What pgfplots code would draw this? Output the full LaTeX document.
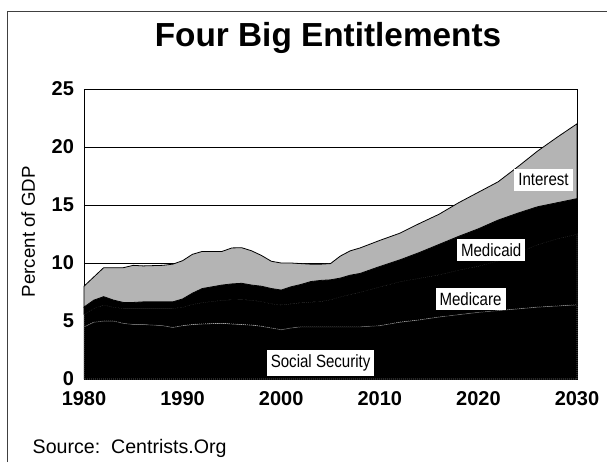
\documentclass[border=0pt]{standalone}
\usepackage{fontspec}
\setmainfont{Liberation Sans}
\newfontfamily\narrowfont[FakeStretch=0.85]{Liberation Sans}
\usepackage{pgfplots}
\pgfplotsset{compat=1.18}
\usepackage{pgfplotstable}

\definecolor{intgray}{RGB}{180,180,180}
\tikzset{lbl/.style={fill=white, draw=none, inner xsep=3pt, minimum height=16pt,
    font=\narrowfont\fontsize{13.3}{15}\selectfont}}

% percent of GDP, one column per program (stacked)
\pgfplotstableread{
year ss   medicare medicaid interest
1980 4.5  1.1  0.6  1.8
1981 4.9  1.2  0.7  2.0
1982 5.0  1.4  0.7  2.5
1983 5.0  1.2  0.6  2.8
1984 4.8  1.3  0.5  3.0
1985 4.7  1.4  0.5  3.2
1986 4.7  1.4  0.55 3.1
1988 4.6  1.5  0.55 3.15
1989 4.45 1.65 0.55 3.25
1990 4.6  1.6  0.7  3.3
1991 4.7  1.75 0.95 3.35
1992 4.75 1.85 1.2  3.2
1994 4.8  2.0  1.3  2.9
1995 4.75 2.1  1.35 3.1
1996 4.7  2.17 1.38 3.07
1997 4.65 2.15 1.3  2.95
1998 4.55 2.15 1.3  2.65
1999 4.4  2.1  1.3  2.35
2000 4.25 2.15 1.27 2.33
2001 4.4  2.1  1.45 2.05
2002 4.5  2.1  1.55 1.8
2003 4.5  2.15 1.75 1.5
2004 4.5  2.2  1.8  1.4
2005 4.5  2.35 1.7  1.4
2006 4.5  2.6  1.6  1.9
2007 4.5  2.8  1.65 2.1
2008 4.5  3.0  1.6  2.2
2010 4.6  3.35 1.75 2.25
2012 4.9  3.5  1.86 2.3
2014 5.1  3.6  2.2  2.5
2016 5.35 3.65 2.6  2.6
2018 5.55 3.85 2.9  2.9
2020 5.75 4.0  3.2  3.15
2022 5.9  4.3  3.5  3.3
2024 6.05 4.85 3.4  4.0
2026 6.2  5.4  3.25 4.8
2028 6.3  5.8  3.1  5.65
2030 6.4  6.1  3.05 6.45
}\entitlements

\begin{document}
\begin{tikzpicture}
\path[use as bounding box] (0,0) rectangle (455.25pt,-346.5pt);
\draw[black!75, line width=0.8pt] (5.6pt,-346.5pt) -- (5.6pt,-8.5pt) -- (455.25pt,-8.5pt);
\begin{axis}[
    at={(63pt,-284.25pt)}, anchor=south west,
    scale only axis,
    width=369.75pt, height=217.5pt,
    xmin=1980, xmax=2030, ymin=0, ymax=25,
    xtick={1980,1990,...,2030},
    ytick={0,5,...,25},
    major tick length=0pt,
    ymajorgrids,
    grid style={black, line width=0.6pt},
    axis line style={line width=0.6pt},
    stack plots=y,
    reverse stacked plots=false,
    /pgf/number format/assume math mode=true,
    ticklabel style={font=\bfseries\fontsize{15}{15}\selectfont},
    xticklabel style={/pgf/number format/1000 sep={}, yshift=-6pt},
    yticklabel style={xshift=-4pt},
    title={Four Big Entitlements},
    title style={at={(axis description cs:0.495,1.1207)}, anchor=base,
        font=\bfseries\fontsize{25}{30}\selectfont},
    ylabel={Percent of GDP},
    ylabel style={at={(axis description cs:-0.0994,0.508)}, anchor=base,
        font=\fontsize{14}{16}\selectfont},
    clip=false,
]
\addplot[fill=black, draw=gray!70, densely dotted, line width=0.5pt]
    table[x=year, y=ss] {\entitlements} \closedcycle;
\addplot[fill=black, draw=gray!70, densely dotted, line width=0.5pt]
    table[x=year, y=medicare] {\entitlements} \closedcycle;
\addplot[fill=black, draw=black, line width=0.5pt]
    table[x=year, y=medicaid] {\entitlements} \closedcycle;
\addplot[fill=intgray, draw=black, line width=0.6pt]
    table[x=year, y=interest] {\entitlements} \closedcycle;

\node[lbl] at (axis cs:2004.0,1.38) {Social Security};
\node[lbl] at (axis cs:2019.2,6.92) {Medicare};
\node[lbl] at (axis cs:2021.3,11.12) {Medicaid};
\node[lbl] at (axis cs:2026.6,17.16) {Interest};

\node[anchor=base west, font=\fontsize{14.7}{16}\selectfont]
    at (axis description cs:-0.1136,-0.256) {Source:\ \ Centrists.Org};
\end{axis}
\end{tikzpicture}
\end{document}
